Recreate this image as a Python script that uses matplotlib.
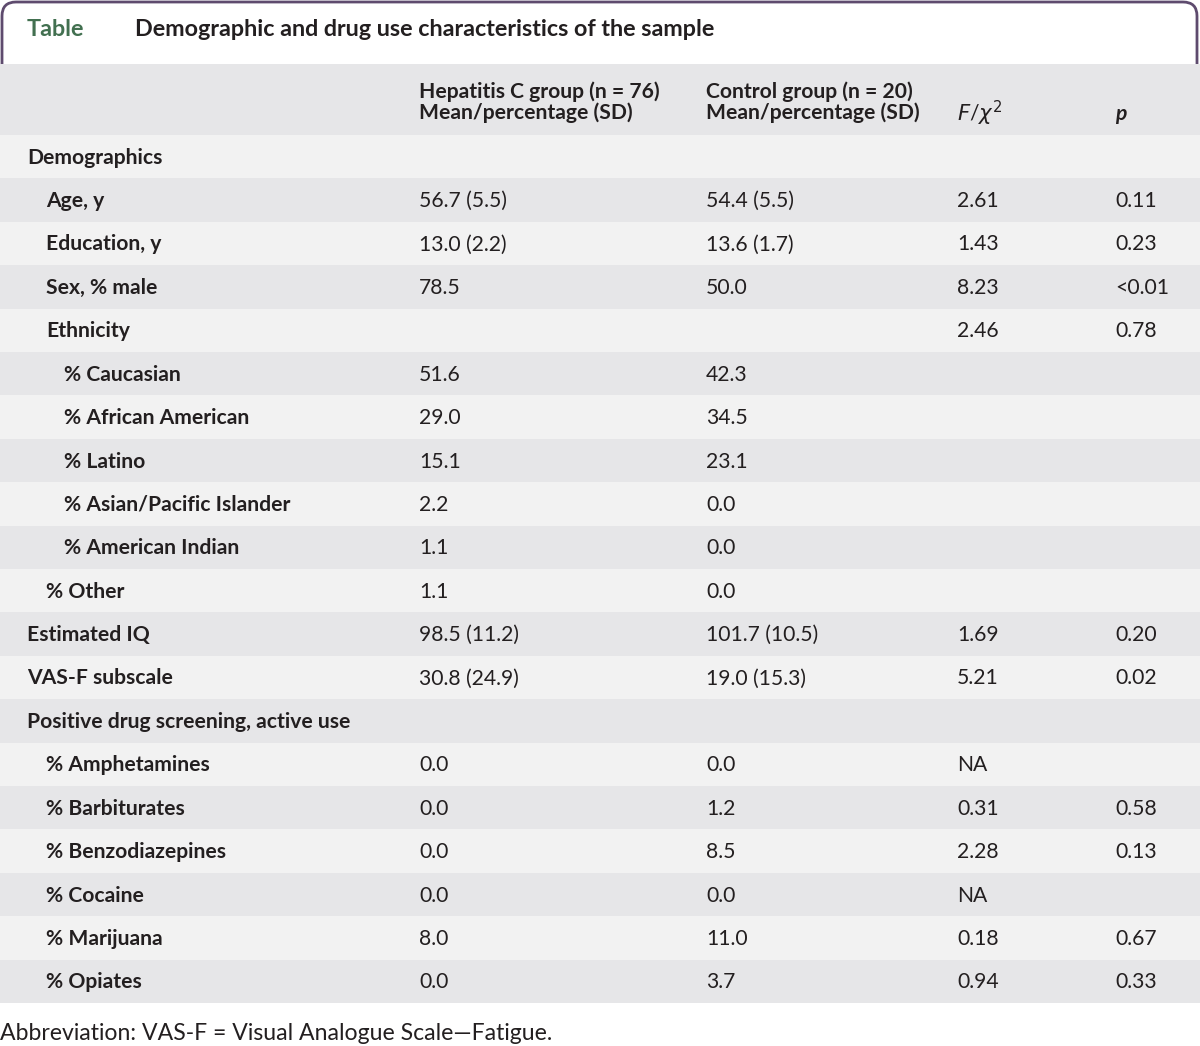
import matplotlib.pyplot as plt
from matplotlib.patches import Rectangle, FancyBboxPatch

# table content
row_labels = ['Demographics', 'Age, y', 'Education, y', 'Sex, % male', 'Ethnicity',
              '% Caucasian', '% African American', '% Latino', '% Asian/Pacific Islander',
              '% American Indian', '% Other', 'Estimated IQ', 'VAS-F subscale',
              'Positive drug screening, active use', '% Amphetamines', '% Barbiturates',
              '% Benzodiazepines', '% Cocaine', '% Marijuana', '% Opiates']
row_levels = [0, 1, 1, 1, 1, 2, 2, 2, 2, 2, 1, 0, 0, 0, 1, 1, 1, 1, 1, 1]
hepc = ['', '56.7 (5.5)', '13.0 (2.2)', '78.5', '', '51.6', '29.0', '15.1', '2.2', '1.1',
        '1.1', '98.5 (11.2)', '30.8 (24.9)', '', '0.0', '0.0', '0.0', '0.0', '8.0', '0.0']
control = ['', '54.4 (5.5)', '13.6 (1.7)', '50.0', '', '42.3', '34.5', '23.1', '0.0', '0.0',
           '0.0', '101.7 (10.5)', '19.0 (15.3)', '', '0.0', '1.2', '8.5', '0.0', '11.0', '3.7']
f_chi = ['', '2.61', '1.43', '8.23', '2.46', '', '', '', '', '', '', '1.69', '5.21', '',
         'NA', '0.31', '2.28', 'NA', '0.18', '0.94']
p_vals = ['', '0.11', '0.23', '<0.01', '0.78', '', '', '', '', '', '', '0.20', '0.02', '',
          '', '0.58', '0.13', '', '0.67', '0.33']

col_headers = ['Hepatitis C group (n = 76)\nMean/percentage (SD)',
               'Control group (n = 20)\nMean/percentage (SD)']
title = 'Demographic and drug use characteristics of the sample'
footnote = 'Abbreviation: VAS-F = Visual Analogue Scale\u2014Fatigue.'

W, H = 1200, 1046
fig = plt.figure(figsize=(W / 100, H / 100), dpi=100)
ax = fig.add_axes([0, 0, 1, 1])
ax.set_xlim(0, W)
ax.set_ylim(H, 0)
ax.axis('off')

FONT = 'Lato'
dark_gray = '#e6e6e8'
light_gray = '#f2f2f2'
text_col = '#231f20'
FS = 15.2

# purple tab outline
purple = '#5e4b6e'
ax.add_patch(FancyBboxPatch((2, 2), 1195, 120, boxstyle='round,pad=0,rounding_size=14',
                            facecolor='white', edgecolor=purple, lw=2, zorder=1))

# header band
ax.add_patch(Rectangle((0, 64), W, 71, facecolor=dark_gray, edgecolor='none', zorder=2))

ax.text(27, 30, 'Table', fontsize=16.8, fontweight='bold', color='#427050',
        family=FONT, va='center', zorder=3)
ax.text(135, 30, title, fontsize=16.8, fontweight='bold', color=text_col,
        family=FONT, va='center', zorder=3)

col_x = [419, 706, 957, 1115]
ax.text(col_x[0], 102, col_headers[0], fontsize=FS, fontweight='bold', color=text_col,
        family=FONT, va='center', linespacing=1.0, zorder=3)
ax.text(col_x[1], 102, col_headers[1], fontsize=FS, fontweight='bold', color=text_col,
        family=FONT, va='center', linespacing=1.0, zorder=3)
ax.text(col_x[2], 113, r'$\mathit{F}$/$\chi^2$', fontsize=FS, color=text_col,
        family=FONT, va='center', zorder=3)
ax.text(col_x[3], 114, 'p', fontsize=FS, fontweight='bold', style='italic',
        color=text_col, family=FONT, va='center', zorder=3)

row_top = 135
row_h = 43.4
indent = {0: 27, 1: 46, 2: 64}
for i, lab in enumerate(row_labels):
    y0 = row_top + i * row_h
    ax.add_patch(Rectangle((0, y0), W, row_h,
                           facecolor=light_gray if i % 2 == 0 else dark_gray,
                           edgecolor='none', zorder=2))
    yc = y0 + row_h / 2 + 1
    ax.text(indent[row_levels[i]], yc, lab, fontsize=FS, fontweight='bold',
            color=text_col, family=FONT, va='center', zorder=3)
    for x, vals in zip(col_x, [hepc, control, f_chi, p_vals]):
        if vals[i]:
            ax.text(x, yc, vals[i], fontsize=FS, color=text_col, family=FONT,
                    va='center', zorder=3)

ax.text(0, 1033, footnote, fontsize=16.6, color=text_col, family=FONT, va='center')

plt.savefig('out.png', dpi=100)
